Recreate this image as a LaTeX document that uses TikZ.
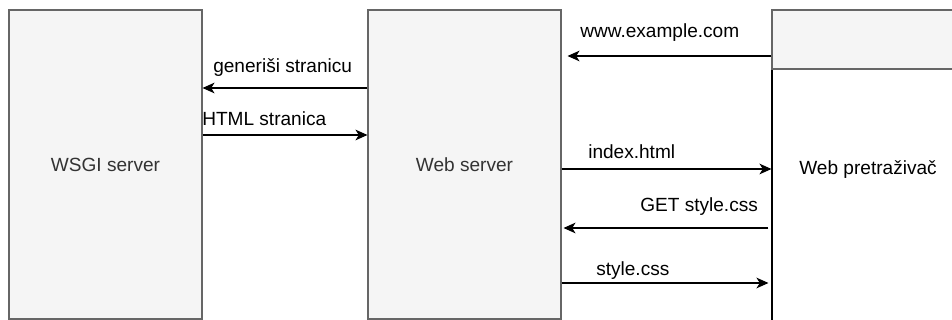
\documentclass[tikz,border=0pt]{standalone}
\usepackage{fontspec}
\setmainfont{Liberation Sans}
\usetikzlibrary{arrows.meta}
\definecolor{boxfill}{HTML}{F5F5F5}
\definecolor{boxline}{HTML}{666666}
\definecolor{boxtext}{HTML}{333333}

\begin{document}
\begin{tikzpicture}[x=0.75pt,y=-0.75pt,
  box/.style={draw=boxline,fill=boxfill,text=boxtext,line width=0.8pt,
    minimum width=144.75pt,minimum height=231.75pt,font=\fontsize{14.3}{17}\selectfont},
  lbl/.style={anchor=base west,inner sep=0pt,font=\fontsize{14.3}{17}\selectfont},
  msg/.style={line width=1pt,-{Stealth[length=9pt,width=8pt,inset=2.5pt]}}]
 \useasboundingbox (0,0) rectangle (952,320);
 \node[box] (wsgi) at (105.5,164.5) {WSGI server}; %WSGI
 \node[box] (web) at (464.5,164.5) {Web server}; %web server
 \node[box,fill=white,draw=black,minimum width=144pt,minimum height=248.25pt] (brbody) at (868,234.5) {}; %pretrazivac
 \node[box,minimum width=144pt,minimum height=44.25pt] (brhead) at (868,39.5) {};
 \node[lbl,anchor=center] (brtext) at (868,170) {Web pretraživač};

 \draw[msg,shorten >=4.5pt] (brbody.west |- 0,56) -- (web.east |- 0,56);
 \draw[msg] (web.west |- 0,88) -- (wsgi.east |- 0,88);
 \draw[msg] (wsgi.east |- 0,135) -- (web.west |- 0,135);
 \draw[msg] (web.east |- 0,169) -- (brbody.west |- 0,169);
 \draw[msg,shorten <=2.25pt,shorten >=1.5pt] (brbody.west |- 0,228) -- (web.east |- 0,228);
 \draw[msg,shorten >=2.25pt] (web.east |- 0,283) -- (brbody.west |- 0,283);

 \node[lbl] (lurl) at (580,38) {www.example.com};
 \node[lbl] (lgen) at (213,73) {generiši stranicu};
 \node[lbl] (lhtml) at (202,126) {HTML stranica};
 \node[lbl] (lindex) at (588,159) {index.html};
 \node[lbl] (lget) at (640,212) {GET style.css};
 \node[lbl] (lcss) at (596,275) {style.css};
\end{tikzpicture}
\end{document}
